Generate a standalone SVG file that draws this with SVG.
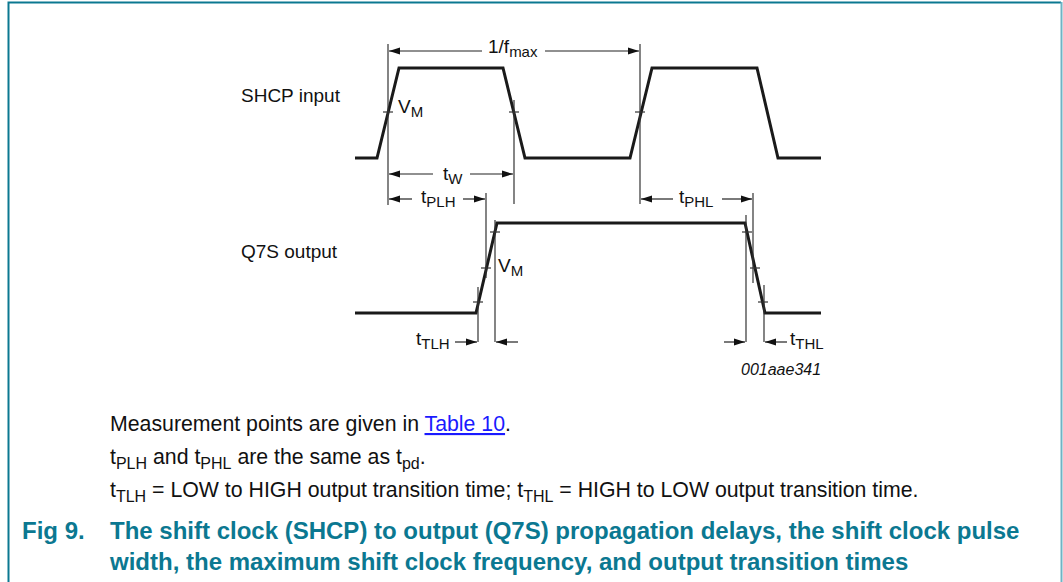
<svg xmlns="http://www.w3.org/2000/svg" width="1063" height="582" viewBox="0 0 1063 582">
<defs>
<marker id="ah" markerUnits="userSpaceOnUse" markerWidth="11" markerHeight="8" refX="11" refY="4" orient="auto">
<path d="M0,0.5 L11,4 L0,7.5 z" fill="#111"/>
</marker>
<style>
.wave{fill:none;stroke:#1a1a1a;stroke-width:3;stroke-linejoin:miter}
.thin{fill:none;stroke:#333;stroke-width:1.2}
.dim{fill:none;stroke:#222;stroke-width:1.2;marker-end:url(#ah)}
.lbl{font-family:"Liberation Sans",Arial,sans-serif;font-size:19px;fill:#111}
.sub{font-size:15px}
.body{font-family:"Liberation Sans",Arial,sans-serif;font-size:21.3px;fill:#111}
.bsub{font-size:16px}
.title{font-family:"Liberation Sans",Arial,sans-serif;font-size:24px;font-weight:bold;fill:#0b7891}
</style>
</defs>
<rect width="1063" height="582" fill="#fff"/>
<g id="frame">
<path d="M8.5,582 L8.5,2.5 L1061,2.5" fill="none" stroke="#0b7891" stroke-width="2"/>
<line x1="1061.5" y1="2" x2="1061.5" y2="582" stroke="#6fb3c4" stroke-width="2"/>
</g>
<g id="shcp-wave">
<polyline class="wave" points="355,158 377,158 399,68 503,68 525,158 630,158 652,68 757,68 778,158 821,158"/>
<line class="thin" x1="383" y1="112" x2="393" y2="112"/>
<line class="thin" x1="509" y1="112" x2="519" y2="112"/>
<line class="thin" x1="635" y1="112" x2="645" y2="112"/>
</g>
<g id="q7s-wave">
<polyline class="wave" points="355,313 476,313 497,223 745,223 765,313 821,313"/>
<line class="thin" x1="473" y1="302" x2="483" y2="302"/>
<line class="thin" x1="481" y1="268" x2="491" y2="268"/>
<line class="thin" x1="490" y1="232" x2="500" y2="232"/>
<line class="thin" x1="742" y1="232" x2="752" y2="232"/>
<line class="thin" x1="750" y1="268" x2="760" y2="268"/>
<line class="thin" x1="758" y1="302" x2="768" y2="302"/>
</g>
<g id="connectors">
<line class="thin" x1="388" y1="44" x2="388" y2="205"/>
<line class="thin" x1="514" y1="100" x2="514" y2="204"/>
<line class="thin" x1="640" y1="44" x2="640" y2="204"/>
<line class="thin" x1="486" y1="193" x2="486" y2="278"/>
<line class="thin" x1="478" y1="287" x2="478" y2="342"/>
<line class="thin" x1="495" y1="220" x2="495" y2="342"/>
<line class="thin" x1="753" y1="193" x2="753" y2="283"/>
<line class="thin" x1="746" y1="215" x2="746" y2="342"/>
<line class="thin" x1="764" y1="285" x2="764" y2="342"/>
<line class="dim" x1="482" y1="51" x2="389" y2="51"/>
<line class="dim" x1="545" y1="51" x2="639" y2="51"/>
<line class="dim" x1="433" y1="174" x2="389" y2="174"/>
<line class="dim" x1="470" y1="174" x2="513" y2="174"/>
<line class="dim" x1="412" y1="199" x2="389" y2="199"/>
<line class="dim" x1="463" y1="199" x2="485" y2="199"/>
<line class="dim" x1="673" y1="199" x2="641" y2="199"/>
<line class="dim" x1="722" y1="199" x2="752" y2="199"/>
<line class="dim" x1="455" y1="342" x2="477" y2="342"/>
<line class="dim" x1="518" y1="342" x2="496" y2="342"/>
<line class="dim" x1="724" y1="342" x2="745" y2="342"/>
<line class="dim" x1="787" y1="342" x2="765" y2="342"/>
</g>
<g id="labels">
<text class="lbl" x="241" y="102">SHCP input</text>
<text class="lbl" x="241" y="258">Q7S output</text>
<text class="lbl" x="488" y="53">1/f<tspan class="sub" dy="4">max</tspan></text>
<text class="lbl" x="398" y="113">V<tspan class="sub" dy="4">M</tspan></text>
<text class="lbl" x="498" y="272">V<tspan class="sub" dy="4">M</tspan></text>
<text class="lbl" x="443" y="180">t<tspan class="sub" dy="4">W</tspan></text>
<text class="lbl" x="421" y="203">t<tspan class="sub" dy="4">PLH</tspan></text>
<text class="lbl" x="679" y="203">t<tspan class="sub" dy="4">PHL</tspan></text>
<text class="lbl" x="416" y="345">t<tspan class="sub" dy="4">TLH</tspan></text>
<text class="lbl" x="790" y="345">t<tspan class="sub" dy="4">THL</tspan></text>
<text class="lbl" x="741" y="375" style="font-style:italic;font-size:16px">001aae341</text>
</g>
<g id="notes">
<text class="body" x="110" y="431">Measurement points are given in <tspan fill="#1a1aff" text-decoration="underline">Table 10</tspan>.</text>
<text class="body" x="110" y="464">t<tspan class="bsub" dy="5">PLH</tspan><tspan dy="-5"> and t</tspan><tspan class="bsub" dy="5">PHL</tspan><tspan dy="-5"> are the same as t</tspan><tspan class="bsub" dy="5">pd</tspan><tspan dy="-5">.</tspan></text>
<text class="body" x="110" y="497">t<tspan class="bsub" dy="5">TLH</tspan><tspan dy="-5"> = LOW to HIGH output transition time; t</tspan><tspan class="bsub" dy="5">THL</tspan><tspan dy="-5"> = HIGH to LOW output transition time.</tspan></text>
</g>
<g id="caption">
<text class="title" x="22" y="539">Fig 9.</text>
<text class="title" x="110" y="539">The shift clock (SHCP) to output (Q7S) propagation delays, the shift clock pulse</text>
<text class="title" x="110" y="570">width, the maximum shift clock frequency, and output transition times</text>
</g>
</svg>
